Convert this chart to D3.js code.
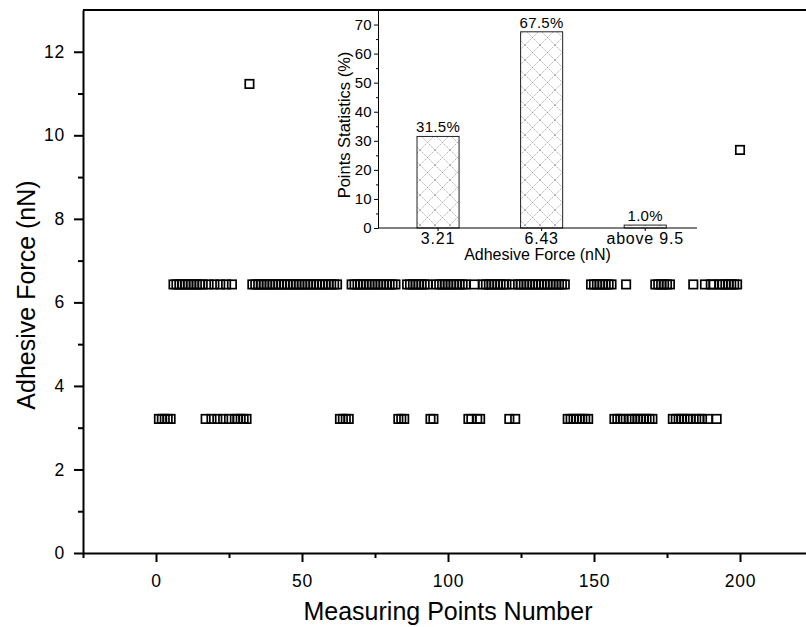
<!DOCTYPE html>
<meta charset="utf-8">
<style>
    body {
        margin: 0;
        background: #fff;
    }

    svg {
        font-family: Arial, "Liberation Sans", sans-serif;
    }

    .axis path,
    .axis line {
        fill: none;
        stroke: #000;
    }

    .main path,
    .main line {
        stroke-width: 2;
    }

    .inset path,
    .inset line {
        stroke-width: 1;
    }
</style>

<body>
    <script src="https://d3js.org/d3.v7.min.js"></script>
    <script>

        // measuring points 1..200 and the force level each one sits on
        var nPoints = 200;
        var lowForce = 3.21,
            highForce = 6.43;
        // points read on the 3.21 nN row (everything else is on 6.43 nN)
        var lowPoints = [1, 2, 3, 4, 5,
            17, 19, 21, 23, 25, 27, 28, 29, 30, 31,
            63, 64, 65, 66,
            83, 84, 85,
            94, 95,
            107, 108, 110, 111,
            121, 123,
            141, 142, 143, 144, 145, 146, 147, 148,
            157, 158, 159, 160, 162, 163, 164, 165, 166, 167, 168, 169, 170,
            177, 178, 179, 180, 181, 182, 183, 185, 186, 187, 189, 192];
        var outlierPoints = [32, 200];
        var outlierForce = [11.23, 9.65];

        // inset histogram
        var binLabels = ["3.21", "6.43", "above 9.5"];
        var binPercent = [31.5, 67.5, 1.0];

        var xMajor = [0, 50, 100, 150, 200];
        var xMinor = [-25, 25, 75, 125, 175, 225];
        var yMajor = [0, 2, 4, 6, 8, 10, 12];
        var yMinor = [1, 3, 5, 7, 9, 11];
        var inYMajor = [0, 10, 20, 30, 40, 50, 60, 70];
        var inYMinor = [5, 15, 25, 35, 45, 55, 65];

        // build the scatter table
        var data = [];
        for (var n = 1; n <= nPoints; n++) {
            var k = outlierPoints.indexOf(n);
            var f = k >= 0 ? outlierForce[k] : (lowPoints.indexOf(n) >= 0 ? lowForce : highForce);
            data.push({ n: n, f: f });
        }

        var width = 806, height = 627;
        var plot = { left: 83, right: 813, top: 10, bottom: 553 };

        var svg = d3.select("body")
            .append("svg")
            .attr("width", width)
            .attr("height", height);

        var x = d3.scaleLinear().domain([-25, 225]).range([plot.left, plot.right]);
        var y = d3.scaleLinear().domain([0, 13]).range([plot.bottom, plot.top]);

        // top frame line
        svg.append("line")
            .attr("x1", plot.left).attr("x2", plot.right)
            .attr("y1", plot.top).attr("y2", plot.top)
            .attr("stroke", "#000").attr("stroke-width", 2);

        // main x axis
        var gx = svg.append("g")
            .attr("class", "axis main")
            .attr("transform", "translate(0," + plot.bottom + ")")
            .call(d3.axisBottom(x).tickValues(xMajor).tickSize(9).tickSizeOuter(0).tickPadding(13));
        gx.selectAll("text").attr("font-size", 17.5).attr("letter-spacing", 0.8)
            .attr("font-family", null).attr("fill", "#000");
        svg.append("g")
            .attr("class", "axis main")
            .attr("transform", "translate(0," + plot.bottom + ")")
            .call(d3.axisBottom(x).tickValues(xMinor).tickSize(5).tickFormat(""))
            .select(".domain").remove();

        // main y axis
        var gy = svg.append("g")
            .attr("class", "axis main")
            .attr("transform", "translate(" + plot.left + ",0)")
            .call(d3.axisLeft(y).tickValues(yMajor).tickSize(9).tickSizeOuter(0).tickPadding(9));
        gy.selectAll("text").attr("font-size", 17.5).attr("letter-spacing", 0.8)
            .attr("font-family", null).attr("fill", "#000");
        svg.append("g")
            .attr("class", "axis main")
            .attr("transform", "translate(" + plot.left + ",0)")
            .call(d3.axisLeft(y).tickValues(yMinor).tickSize(5).tickFormat(""))
            .select(".domain").remove();

        // axis titles
        svg.append("text")
            .attr("x", x(100))
            .attr("y", 620)
            .attr("text-anchor", "middle")
            .attr("font-size", 25)
            .text("Measuring Points Number");

        svg.append("text")
            .attr("transform", "translate(35,295) rotate(-90)")
            .attr("text-anchor", "middle")
            .attr("font-size", 25)
            .text("Adhesive Force (nN)");

        // open square markers
        var s = 8.4;
        svg.append("g")
            .selectAll("rect")
            .data(data)
            .enter().append("rect")
            .attr("x", function (d) { return x(d.n) - s / 2; })
            .attr("y", function (d) { return y(d.f) - s / 2; })
            .attr("width", s)
            .attr("height", s)
            .attr("fill", "none")
            .attr("stroke", "#000")
            .attr("stroke-width", 1.7);

        // ---- inset bar chart ----
        var inset = { left: 378, right: 697, top: 10, bottom: 228 };

        var defs = svg.append("defs");
        var pat = defs.append("pattern")
            .attr("id", "xhatch")
            .attr("patternUnits", "userSpaceOnUse")
            .attr("width", 15)
            .attr("height", 15);
        pat.append("rect").attr("width", 15).attr("height", 15).attr("fill", "#fff");
        pat.append("path")
            .attr("d", "M0,0L15,15M15,0L0,15")
            .attr("stroke", "#8a8a8a")
            .attr("stroke-width", 0.7)
            .attr("stroke-dasharray", "1.5,1");

        var xIn = d3.scaleBand()
            .domain(binLabels)
            .range([inset.left + 8.25, inset.right])
            .paddingInner(0.594)
            .paddingOuter(0.297);
        var yIn = d3.scaleLinear().domain([0, 75]).range([inset.bottom, inset.top]);

        svg.append("g")
            .selectAll("rect")
            .data(binPercent)
            .enter().append("rect")
            .attr("x", function (d, i) { return xIn(binLabels[i]); })
            .attr("y", function (d) { return yIn(d); })
            .attr("width", xIn.bandwidth())
            .attr("height", function (d) { return yIn(0) - yIn(d); })
            .attr("fill", "url(#xhatch)")
            .attr("stroke", "#222")
            .attr("stroke-width", 1);

        svg.append("g")
            .selectAll("text")
            .data(binPercent)
            .enter().append("text")
            .attr("x", function (d, i) { return xIn(binLabels[i]) + xIn.bandwidth() / 2; })
            .attr("y", function (d) { return yIn(d) - 4; })
            .attr("text-anchor", "middle")
            .attr("font-size", 15)
            .attr("letter-spacing", 0.3)
            .text(function (d) { return d.toFixed(1) + "%"; });

        // inset x axis
        svg.append("line")
            .attr("x1", inset.left).attr("x2", inset.right)
            .attr("y1", inset.bottom).attr("y2", inset.bottom)
            .attr("stroke", "#000").attr("stroke-width", 1);
        var gix = svg.append("g")
            .attr("class", "axis inset")
            .attr("transform", "translate(0," + inset.bottom + ")")
            .call(d3.axisBottom(xIn).tickSize(3).tickSizeOuter(0).tickPadding(2));
        gix.select(".domain").remove();
        gix.selectAll("text").attr("font-size", 16).attr("letter-spacing", 0.8)
            .attr("font-family", null).attr("fill", "#000");

        // inset y axis
        var giy = svg.append("g")
            .attr("class", "axis inset")
            .attr("transform", "translate(" + inset.left + ",0)")
            .call(d3.axisLeft(yIn).tickValues(inYMajor).tickSize(4).tickSizeOuter(0).tickPadding(2));
        giy.selectAll("text").attr("font-size", 15).attr("letter-spacing", 0.3)
            .attr("font-family", null).attr("fill", "#000");
        svg.append("g")
            .attr("class", "axis inset")
            .attr("transform", "translate(" + inset.left + ",0)")
            .call(d3.axisLeft(yIn).tickValues(inYMinor).tickSize(2).tickFormat(""))
            .select(".domain").remove();

        svg.append("text")
            .attr("x", (inset.left + inset.right) / 2)
            .attr("y", 260)
            .attr("text-anchor", "middle")
            .attr("font-size", 16)
            .text("Adhesive Force (nN)");

        svg.append("text")
            .attr("transform", "translate(350,125) rotate(-90)")
            .attr("text-anchor", "middle")
            .attr("font-size", 16.5)
            .text("Points Statistics (%)");

    </script>
</body>
